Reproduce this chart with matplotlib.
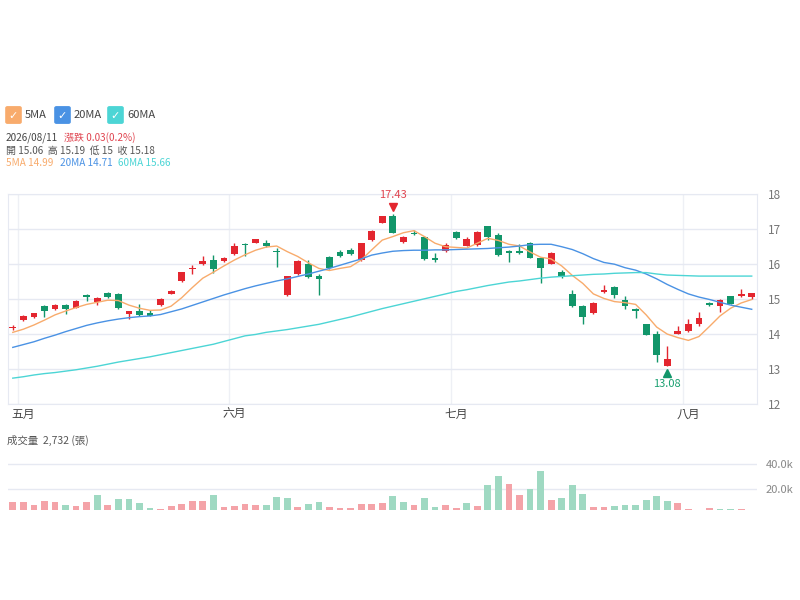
import matplotlib
matplotlib.use("Agg")
import matplotlib.pyplot as plt
import matplotlib.transforms as mtransforms
from matplotlib.patches import FancyBboxPatch
from matplotlib.ticker import FuncFormatter
import numpy as np

plt.rcParams['font.family'] = ['Noto Sans CJK TC', 'DejaVu Sans']

# daily candles, 2026/04/30 .. 2026/08/11
opens = [14.18, 14.41, 14.50, 14.79, 14.72, 14.82, 14.76, 15.11, 14.92, 15.17,
         15.14, 14.57, 14.65, 14.59, 14.82, 15.16, 15.52, 15.86, 16.00, 16.13,
         16.09, 16.28, 16.59, 16.62, 16.61, 16.38, 15.12, 15.71, 16.00, 15.65,
         16.21, 16.34, 16.40, 16.12, 16.69, 17.19, 17.38, 16.64, 16.90, 16.79,
         16.18, 16.38, 16.92, 16.53, 16.55, 17.08, 16.84, 16.38, 16.38, 16.62,
         16.19, 16.02, 15.78, 15.15, 14.81, 14.60, 15.20, 15.36, 14.98, 14.72,
         14.28, 14.00, 13.10, 14.01, 14.09, 14.28, 14.88, 14.79, 15.08, 15.08,
         15.06]
highs = [14.25, 14.55, 14.61, 14.84, 14.87, 14.87, 14.98, 15.14, 15.05, 15.21,
         15.17, 14.67, 14.86, 14.70, 15.03, 15.26, 15.79, 15.97, 16.23, 16.26,
         16.21, 16.60, 16.62, 16.73, 16.69, 16.45, 15.67, 16.11, 16.13, 15.73,
         16.23, 16.40, 16.45, 16.62, 16.97, 17.39, 17.43, 16.80, 16.98, 16.81,
         16.33, 16.62, 16.94, 16.79, 16.94, 17.10, 16.88, 16.40, 16.57, 16.64,
         16.21, 16.35, 15.83, 15.25, 14.83, 14.92, 15.40, 15.38, 15.08, 14.74,
         14.30, 14.10, 13.66, 14.22, 14.43, 14.63, 14.93, 15.00, 15.10, 15.29,
         15.19]
lows = [14.12, 14.37, 14.47, 14.50, 14.70, 14.57, 14.74, 14.94, 14.83, 15.04,
        14.72, 14.43, 14.52, 14.51, 14.80, 15.14, 15.50, 15.72, 15.98, 15.75,
        16.07, 16.26, 16.24, 16.60, 16.49, 15.92, 15.10, 15.69, 15.61, 15.11,
        15.87, 16.22, 16.26, 16.10, 16.67, 17.17, 16.88, 16.60, 16.83, 16.12,
        16.06, 16.36, 16.72, 16.51, 16.53, 16.69, 16.24, 16.07, 16.29, 16.17,
        15.46, 16.00, 15.60, 14.77, 14.29, 14.58, 15.18, 15.03, 14.71, 14.45,
        13.96, 13.21, 13.08, 13.99, 14.07, 14.22, 14.80, 14.63, 14.85, 15.06,
        15.00]
closes = [14.20, 14.53, 14.59, 14.67, 14.83, 14.72, 14.95, 15.05, 15.02, 15.07,
          14.74, 14.65, 14.54, 14.53, 15.01, 15.24, 15.77, 15.90, 16.09, 15.85,
          16.19, 16.53, 16.55, 16.71, 16.51, 16.34, 15.65, 16.09, 15.63, 15.59,
          15.89, 16.24, 16.28, 16.60, 16.95, 17.37, 16.90, 16.77, 16.87, 16.14,
          16.12, 16.55, 16.74, 16.72, 16.92, 16.77, 16.26, 16.32, 16.31, 16.19,
          15.88, 16.33, 15.62, 14.79, 14.48, 14.90, 15.27, 15.12, 14.79, 14.67,
          13.98, 13.40, 13.30, 14.10, 14.28, 14.47, 14.82, 14.98, 14.87, 15.15,
          15.18]

ma5 = [14.05, 14.14, 14.26, 14.40, 14.55, 14.66, 14.76, 14.85, 14.91, 14.97,
       14.96, 14.83, 14.74, 14.68, 14.69, 14.80, 15.04, 15.33, 15.60, 15.77,
       15.95, 16.12, 16.27, 16.40, 16.49, 16.52, 16.36, 16.22, 16.04, 15.88,
       15.82, 15.88, 15.93, 16.12, 16.41, 16.69, 16.79, 16.90, 16.96, 16.79,
       16.60, 16.50, 16.48, 16.46, 16.60, 16.74, 16.68, 16.57, 16.52, 16.35,
       16.20, 16.15, 15.95, 15.68, 15.45, 15.15, 15.02, 14.93, 14.90, 14.85,
       14.55, 14.20, 14.00, 13.90, 13.82, 13.93, 14.22, 14.52, 14.74, 14.89,
       14.99]
ma20 = [13.62, 13.70, 13.78, 13.88, 13.97, 14.07, 14.16, 14.25, 14.32, 14.38,
        14.43, 14.47, 14.50, 14.52, 14.56, 14.64, 14.72, 14.82, 14.92, 15.02,
        15.12, 15.21, 15.30, 15.38, 15.45, 15.52, 15.58, 15.65, 15.72, 15.80,
        15.88, 15.97, 16.06, 16.15, 16.26, 16.32, 16.37, 16.39, 16.40, 16.40,
        16.41, 16.41, 16.42, 16.43, 16.44, 16.45, 16.47, 16.49, 16.52, 16.56,
        16.57, 16.57, 16.50, 16.42, 16.30, 16.16, 16.05, 16.00, 15.90, 15.83,
        15.72, 15.58, 15.42, 15.28, 15.15, 15.06, 14.99, 14.91, 14.83, 14.77,
        14.71]
ma60 = [12.74, 12.78, 12.83, 12.87, 12.90, 12.94, 12.98, 13.03, 13.08, 13.14,
        13.20, 13.25, 13.30, 13.35, 13.41, 13.47, 13.53, 13.59, 13.65, 13.71,
        13.79, 13.87, 13.95, 13.99, 14.05, 14.09, 14.13, 14.18, 14.23, 14.28,
        14.35, 14.42, 14.49, 14.57, 14.65, 14.73, 14.80, 14.87, 14.94, 15.01,
        15.08, 15.15, 15.22, 15.27, 15.33, 15.39, 15.44, 15.49, 15.52, 15.56,
        15.60, 15.63, 15.65, 15.67, 15.69, 15.71, 15.72, 15.74, 15.75, 15.76,
        15.76, 15.72, 15.69, 15.68, 15.67, 15.66, 15.66, 15.66, 15.66, 15.66,
        15.66]

# volume in lots, and whether close was above previous close
volume = [10200, 9500, 7200, 10800, 10000, 7200, 7000, 9700, 15400, 7700,
          12300, 12300, 9000, 5400, 4600, 6700, 8000, 11000, 10300, 15400,
          6200, 7000, 8200, 7700, 7700, 13600, 13100, 6200, 8200, 9500,
          5600, 5400, 5400, 8000, 8000, 8700, 14900, 10200, 7700, 12800,
          6200, 7700, 5100, 8700, 7000, 23300, 31000, 24400, 15600, 20500,
          34900, 11800, 12800, 23100, 16100, 5700, 5500, 6900, 7400, 7400,
          11300, 15000, 10400, 9200, 4300, 3500, 5300, 4000, 3900, 4600,
          2732]
vol_up = [1, 1, 1, 1, 1, 0, 1, 1, 0, 1,
          0, 0, 0, 0, 1, 1, 1, 1, 1, 0,
          1, 1, 1, 1, 0, 0, 0, 1, 0, 0,
          1, 1, 1, 1, 1, 1, 0, 0, 1, 0,
          0, 1, 1, 0, 1, 0, 0, 1, 1, 0,
          0, 1, 0, 0, 0, 1, 1, 0, 0, 0,
          0, 0, 0, 1, 1, 0, 1, 0, 0, 1,
          1]

month_labels = ['五月', '六月', '七月', '八月']
month_starts = [1, 21, 42, 64]

RED = '#e3262f'
GREEN = '#12966a'
VRED = '#f4a3a8'
VGREEN = '#9fd9c2'
C5, C20, C60 = '#f8ab6c', '#4a92e4', '#4cd5d5'
GRID = '#e6e9f2'

W, H = 800, 600
fig = plt.figure(figsize=(8, 6), dpi=100)


def fx(x):
    return x / W


def fy(y):
    return 1 - y / H


ax = fig.add_axes([fx(7.5), fy(404), fx(757) - fx(7.5), fy(194.3) - fy(404)])
n = len(closes)
idx = np.arange(n)
o, h, l, c = map(np.array, (opens, highs, lows, closes))
up = c >= o
cols = np.where(up, RED, GREEN)
ax.vlines(idx, l, h, colors=cols, linewidth=1, zorder=3)
body = np.maximum(np.abs(c - o), 0.025)
ax.bar(idx, body, bottom=np.minimum(o, c), width=0.64, color=cols,
       linewidth=0, zorder=4)
ax.plot(idx, ma5, color=C5, lw=1.0, zorder=5)
ax.plot(idx, ma20, color=C20, lw=1.0, zorder=5)
ax.plot(idx, ma60, color=C60, lw=1.0, zorder=5)

ax.set_xlim(-0.5, n - 0.5)
ax.set_ylim(12, 18)
ax.set_yticks(range(12, 19))
ax.yaxis.tick_right()
ax.tick_params(axis='y', length=0, pad=8, labelsize=8.5, labelcolor='#777777')
ax.set_xticks(month_starts)
ax.set_xticklabels(month_labels)
ax.tick_params(axis='x', length=0, pad=3, labelsize=8.5, labelcolor='#444444')
ax.grid(axis='y', color=GRID, lw=1)
for m in month_starts:
    ax.axvline(m - 0.5, color='#eef0f5', lw=1, zorder=0)
for s in ax.spines.values():
    s.set_color(GRID)

# highest / lowest markers
hi_i = int(np.argmax(h))
lo_i = int(np.argmin(l))
tr_up = mtransforms.offset_copy(ax.transData, fig=fig, x=0, y=5, units='points')
tr_dn = mtransforms.offset_copy(ax.transData, fig=fig, x=0, y=-5, units='points')
ax.plot(hi_i, h[hi_i], marker='v', color=RED, ms=6, transform=tr_up,
        clip_on=False, zorder=6)
ax.annotate(f'{h[hi_i]:.2f}', (hi_i, h[hi_i]), xytext=(0, 14),
            textcoords='offset points', ha='center', va='center',
            color='#e04550', fontsize=8)
ax.plot(lo_i, l[lo_i], marker='^', color=GREEN, ms=6, transform=tr_dn,
        clip_on=False, zorder=6)
ax.annotate(f'{l[lo_i]:.2f}', (lo_i, l[lo_i]), xytext=(0, -13),
            textcoords='offset points', ha='center', va='center',
            color='#1aa070', fontsize=8)

# volume pane
vax = fig.add_axes([fx(7.5), fy(510), fx(757) - fx(7.5), fy(455) - fy(510)])
vcols = [VRED if u else VGREEN for u in vol_up]
vax.bar(idx, volume, width=0.64, color=vcols, linewidth=0, zorder=3)
vax.set_xlim(-0.5, n - 0.5)
vax.set_ylim(3440, 47400)
vax.set_yticks([20000, 40000])
vax.yaxis.set_major_formatter(FuncFormatter(lambda v, p: f'{v / 1000:.1f}k'))
vax.yaxis.tick_right()
vax.tick_params(axis='y', length=0, pad=6, labelsize=8, labelcolor='#888888')
vax.set_xticks([])
vax.grid(axis='y', color=GRID, lw=1)
for s in vax.spines.values():
    s.set_visible(False)

fig.text(fx(7), fy(440), f'成交量  {volume[-1]:,} (張)', fontsize=7.5,
         color='#555555', va='center')

# header: legend boxes
for x0, col, lab in [(6, C5, '5MA'), (55, C20, '20MA'), (108, C60, '60MA')]:
    box = FancyBboxPatch((fx(x0 + 1.5), fy(122)), fx(12), fy(108) - fy(122),
                         boxstyle='round,pad=0.002', transform=fig.transFigure,
                         facecolor=col, edgecolor=col, figure=fig)
    fig.patches.append(box)
    fig.text(fx(x0 + 7.5), fy(115.5), '✓', color='white', fontsize=8,
             ha='center', va='center', family='DejaVu Sans')
    fig.text(fx(x0 + 19), fy(115), lab, color='#444444', fontsize=8, va='center')

chg = closes[-1] - closes[-2]
fig.text(fx(6), fy(138), '2026/08/11', color='#444444', fontsize=7.2, va='center')
fig.text(fx(64), fy(138), f'漲跌 {chg:.2f}({chg / closes[-2] * 100:.1f}%)',
         color='#e04550', fontsize=7.2, va='center')
fig.text(fx(6), fy(151),
         f'開 {opens[-1]:.2f}  高 {highs[-1]:.2f}  低 {lows[-1]:g}  收 {closes[-1]:.2f}',
         color='#555555', fontsize=7.2, va='center')
fig.text(fx(6), fy(163), f'5MA {ma5[-1]:.2f}', color=C5, fontsize=7.2, va='center')
fig.text(fx(60), fy(163), f'20MA {ma20[-1]:.2f}', color=C20, fontsize=7.2, va='center')
fig.text(fx(118), fy(163), f'60MA {ma60[-1]:.2f}', color=C60, fontsize=7.2, va='center')

fig.savefig('out.png', dpi=100)
